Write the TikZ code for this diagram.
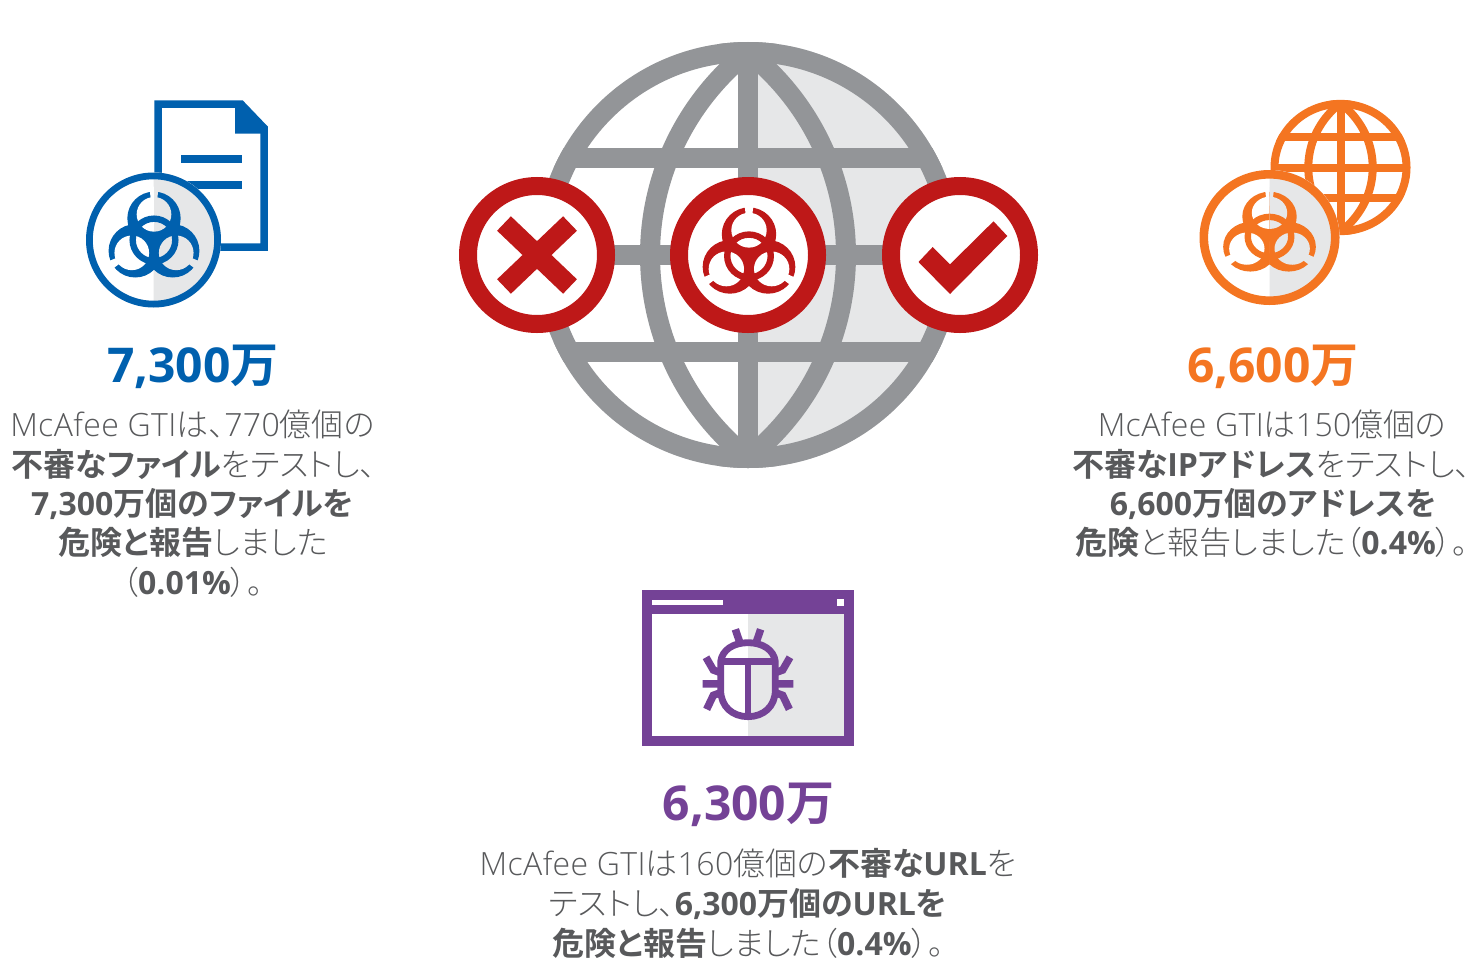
\documentclass[tikz,border=0pt]{standalone}
\usepackage{fontspec}
\setmainfont{Open Sans}[UprightFont={* Light},BoldFont={* Bold},UprightFeatures={LetterSpace=1.2}]
\newfontfamily\jpf[RawFeature=+palt,UprightFont={* Light},BoldFont={* Bold}]{Noto Sans CJK JP}
\newcommand{\J}[1]{{\jpf #1}}
\newcommand{\JB}[1]{{\jpf\bfseries #1}}
\newcommand{\LB}[1]{{\bfseries #1}}
\definecolor{mblue}{HTML}{0060AE}
\definecolor{morange}{HTML}{F47521}
\definecolor{mpurple}{HTML}{744296}
\definecolor{mred}{HTML}{BE1818}
\definecolor{mgrey}{HTML}{939598}
\definecolor{mlight}{HTML}{E6E7E8}
\definecolor{mtext}{HTML}{58595B}
\tikzset{
  head/.style={font=\fontsize{48}{48}\selectfont\bfseries,anchor=base,inner sep=0pt},
  body/.style={font=\fontsize{32}{32}\selectfont,text=mtext,anchor=base,inner sep=0pt},
}
% biohazard: args: colour, background
\newcommand{\biolayer}[2]{%
  \foreach \a in {90,210,330}{\fill[#1] (\a:65) circle[radius=80];}
  \foreach \a in {90,210,330}{\fill[#2] (\a:77) circle[radius=52];}
  \foreach \a in {90,210,330}{\fill[#2,rotate=\a-90] (-7,100) -- (7,100) -- (14,160) -- (-14,160) -- cycle;}
  \draw[#1,line width=\biow] (0,0) circle[radius=64];
}
\newcommand{\bio}[6]{% x y xscale yscale colour rightbg
  \begin{scope}[shift={(#1,#2)},x=#3pt,y=#4pt]
    \def\biow{6.4pt}
    \begin{scope}
      \clip (-200,-200) rectangle (0.3,200);
      \biolayer{#5}{white}
    \end{scope}
    \begin{scope}
      \clip (0,-200) rectangle (200,200);
      \biolayer{#5}{#6}
    \end{scope}
  \end{scope}
}
\newcommand{\globe}[6]{% x y r lw colour rightfill
  \begin{scope}[shift={(#1,#2)}]
    \fill[white] (0,0) circle[radius=#3];
    \begin{scope}
      \clip (0,-#3) rectangle (#3,#3);
      \fill[#6] (0,0) circle[radius=#3];
    \end{scope}
    \begin{scope}
      \clip (0,0) circle[radius=#3];
      \draw[#5,line width=#4] (0,-#3) -- (0,#3);
      \draw[#5,line width=#4] (-#3,{-0.4554*#3}) -- (#3,{-0.4554*#3});
      \draw[#5,line width=#4] (-#3,0) -- (#3,0);
      \draw[#5,line width=#4] (-#3,{0.4554*#3}) -- (#3,{0.4554*#3});
      \draw[#5,line width=#4] ({0.756*#3},0) circle[radius={1.216*#3}];
      \draw[#5,line width=#4] ({-0.756*#3},0) circle[radius={1.216*#3}];
    \end{scope}
    \draw[#5,line width=#4] (0,0) circle[radius={#3-#4/2}];
  \end{scope}
}
\begin{document}
\begin{tikzpicture}[x=1pt,y=-1pt]
\useasboundingbox (0,0) rectangle (1466,969);
% ---------- central globe
\globe{748}{255}{213}{20pt}{mgrey}{mlight}
\foreach \cx in {537,748,960}{
  \fill[white] (\cx,255) circle[radius=70];
  \draw[mred,line width=18pt] (\cx,255) circle[radius=69];
}
\draw[mred,line width=20pt] (504,223.5) -- (570,286.5);
\draw[mred,line width=20pt] (570,223.5) -- (504,286.5);
\bio{749}{256}{0.34}{0.335}{mred}{white}
\fill[mred] (918.5,262) -- (932.7,247) -- (950,264.3) -- (993.5,221.3) -- (1007.3,236) -- (950,294) -- cycle;
% ---------- blue document icon
\draw[mblue,line width=7.5pt,fill=white,line join=miter] (158,104) -- (241,104) -- (264,128) -- (264,247) -- (158,247) -- cycle;
\fill[mblue] (235,104) -- (235,133.5) -- (264,133.5) -- (264,127) -- (241,104) -- cycle;
\fill[mblue] (181,155) rectangle (242,162.7);
\fill[mblue] (181,180.7) rectangle (242,188.7);
\fill[white] (153.5,240) circle[radius=67.5];
\fill[mlight] (153.5,172.5) arc[start angle=-90,end angle=90,radius=67.5] -- cycle;
\bio{154}{240}{0.3333}{0.3333}{mblue}{mlight}
\draw[mblue,line width=6.8pt] (153.5,240) circle[radius=64.1];
% ---------- orange globe icon
\begin{scope}[shift={(1340.5,167.5)},yscale=0.964]
  \globe{0}{0}{70}{8pt}{morange}{white}
\end{scope}
\fill[white] (1269.5,237.5) ellipse[x radius=70,y radius=67.5];
\fill[mlight] (1269.5,170) arc[start angle=-90,end angle=90,x radius=70,y radius=67.5] -- cycle;
\bio{1269.5}{236.7}{0.34}{0.31}{morange}{mlight}
\draw[morange,line width=8.6pt] (1269.5,237.5) ellipse[x radius=65.7,y radius=63.2];
% ---------- purple window icon
\fill[mpurple] (642.3,590) rectangle (854.3,745.7);
\fill[white] (652,614.3) rectangle (748,735.7);
\fill[mlight] (748,614.3) rectangle (844.3,735.7);
\fill[white] (652,600) rectangle (722.7,604.7);
\fill[white] (837,598.7) rectangle (844.3,606);
\begin{scope}[shift={(630,580)},x=0.3333pt,y=-0.3333pt]
  \draw[mpurple,line width=6.8pt,line join=round]
    (272,245) .. controls (276,210) and (310,188) .. (354,188)
    .. controls (398,188) and (432,210) .. (436,245)
    -- (436,330) .. controls (436,380) and (400,410) .. (354,410)
    .. controls (308,410) and (272,380) .. (272,330) -- cycle;
  \draw[mpurple,line width=6.8pt] (272,245) -- (436,245) (354,245) -- (354,410);
  \draw[mpurple,line width=7.5pt] (316,148) -- (329,186) (392,148) -- (379,186)
    (218,312) -- (272,312) (490,312) -- (436,312)
    (228,232) -- (250,270) -- (272,278) (480,232) -- (458,270) -- (436,278)
    (230,388) -- (250,346) -- (272,338) (478,388) -- (458,346) -- (436,338);
\end{scope}
% ---------- text
\node[head,text=mblue] (h1) at (193,382) {7,300\JB{万}};
\node[head,text=morange] (h2) at (1273,382) {6,600\JB{万}};
\node[head,text=mpurple] (h3) at (748.5,820) {6,300\JB{万}};
\node[body] (l1) at (192.5,436) {McAfee GTI\J{は、}770\J{億個の}};
\node[body] (l2) at (194,476) {\JB{不審なファイル}\J{をテストし、}};
\node[body] (l3) at (192.5,515) {\LB{7,300}\JB{万個のファイルを}};
\node[body] (l4) at (193,554) {\JB{危険と報告}\J{しました}};
\node[body] (l5) at (192.5,594) {\J{（}\LB{0.01\%}\J{）。}};
\node[body] (r1) at (1272,436) {McAfee GTI\J{は}150\J{億個の}};
\node[body] (r2) at (1271.5,476) {\JB{不審な}\LB{IP}\JB{アドレス}\J{をテストし、}};
\node[body] (r3) at (1273,515) {\LB{6,600}\JB{万個のアドレスを}};
\node[body] (r4) at (1271.5,554) {\JB{危険}\J{と報告しました（}\LB{0.4\%}\J{）。}};
\node[body] (c1) at (748,875) {McAfee GTI\J{は}160\J{億個の}\JB{不審な}\LB{URL}\J{を}};
\node[body] (c2) at (748,915) {\J{テストし、}\LB{6,300}\JB{万個の}\LB{URL}\JB{を}};
\node[body] (c3) at (748,955) {\JB{危険と報告}\J{しました（}\LB{0.4\%}\J{）。}};
\end{tikzpicture}
\end{document}
